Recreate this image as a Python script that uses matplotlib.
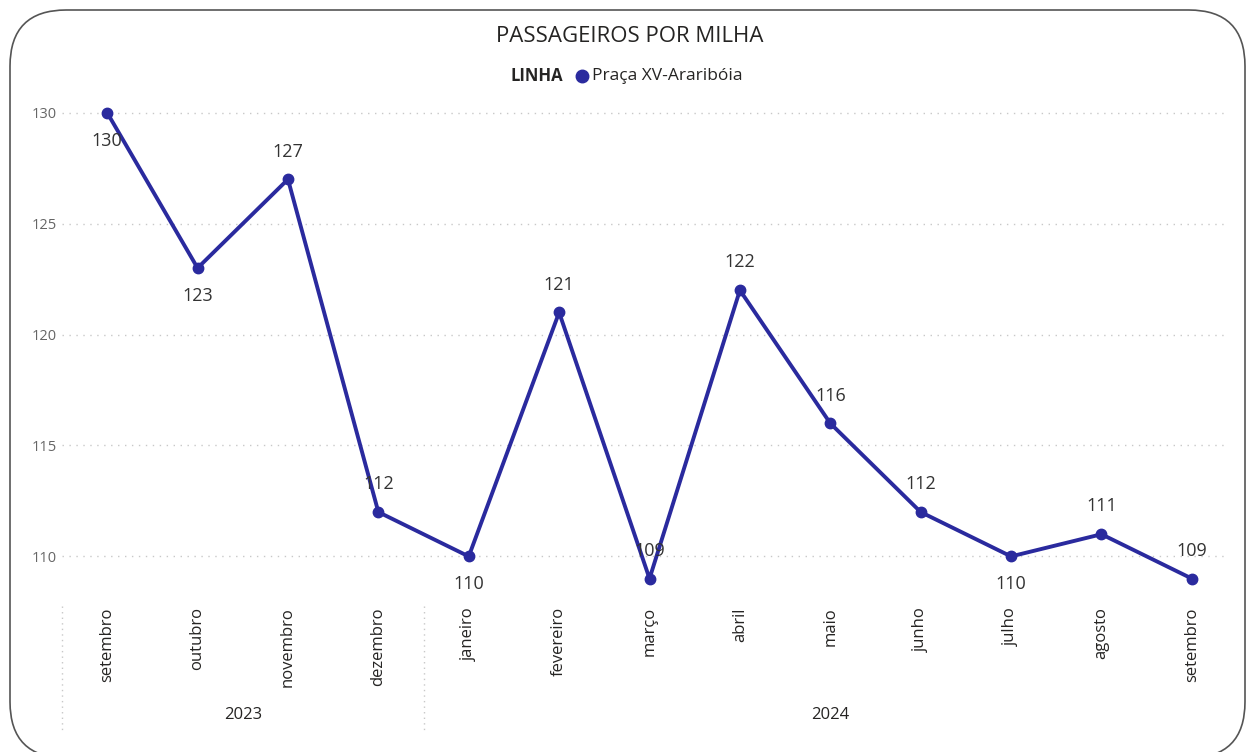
import matplotlib
matplotlib.use("Agg")
import matplotlib.pyplot as plt
from matplotlib.patches import FancyBboxPatch
from matplotlib.lines import Line2D

months = ["setembro", "outubro", "novembro", "dezembro", "janeiro", "fevereiro",
          "março", "abril", "maio", "junho", "julho", "agosto", "setembro"]
years = ["2023", "2024"]
year_counts = [4, 9]
values = [130, 123, 127, 112, 110, 121, 109, 122, 116, 112, 110, 111, 109]
label_pos = ["below", "below", "above", "above", "below", "above", "above",
             "above", "above", "above", "below", "above", "above"]
yticks = [110, 115, 120, 125, 130]
series_name = "Praça XV-Araribóia"
legend_title = "LINHA"
title = "PASSAGEIROS POR MILHA"

plt.rcParams['font.family'] = ['Open Sans', 'DejaVu Sans']
W, H = 1249, 752
fig = plt.figure(figsize=(W / 100, H / 100), dpi=100)

# rounded frame
frame = FancyBboxPatch((10 / W, 1 - 758 / H), (1245 - 10) / W, (758 - 10) / H,
                       boxstyle="round,pad=0,rounding_size=0.045",
                       transform=fig.transFigure, facecolor="none",
                       edgecolor="#555555", linewidth=1.2, mutation_aspect=W / H,
                       zorder=-1)
fig.patches.append(frame)

ax_l, ax_r, ax_t, ax_b = 62, 1228, 95, 603
ax = fig.add_axes([ax_l / W, 1 - ax_b / H, (ax_r - ax_l) / W, (ax_b - ax_t) / H])
ax.set_facecolor("none")
x = list(range(len(values)))
color = "#2A2A9E"
ax.plot(x, values, color=color, linewidth=2.8, marker="o", markersize=7.5, zorder=3)
ax.set_xlim(-0.5, 12.4)
ax.set_ylim(107.9, 130.8)
ax.set_yticks(yticks)
ax.set_yticklabels([str(t) for t in yticks], color="#666666", fontsize=10.5)
ax.tick_params(axis="y", length=0, pad=4)
ax.set_xticks([])
ax.grid(axis="y", linestyle=(0, (1, 4)), color="#C8C8C8", linewidth=1)
for s in ax.spines.values():
    s.set_visible(False)

for xi, v, pos in zip(x, values, label_pos):
    off = -20 if pos == "below" else 20
    ax.annotate(str(v), (xi, v), xytext=(0, off), textcoords="offset points",
                ha="center", va="center", fontsize=13, color="#333333", zorder=4)

# category labels
for xi, m in zip(x, months):
    ax.annotate(m, (xi, 0), xycoords=("data", "axes fraction"),
                xytext=(0, -3), textcoords="offset points",
                rotation=90, ha="center", va="top", fontsize=12, color="#252423")

# year labels & separators
start = 0
seps = [-0.5]
for yr, n in zip(years, year_counts):
    center = start + (n - 1) / 2
    ax.annotate(yr, (center, 0), xycoords=("data", "axes fraction"),
                xytext=(0, -75), textcoords="offset points",
                ha="center", va="top", fontsize=12, color="#252423")
    start += n
    seps.append(start - 0.5)
for sx in seps[:-1]:
    ax.plot([sx, sx], [-0.005, -0.25], transform=ax.get_xaxis_transform(),
            linestyle=(0, (1, 3)), color="#C8C8C8", linewidth=1, clip_on=False)

fig.text(630 / W, 1 - 36 / H, title, ha="center", va="center",
         fontsize=16, color="#252423")
fig.text(537 / W, 1 - 76 / H, legend_title, ha="center", va="center",
         fontsize=12, fontweight="bold", color="#252423")
fig.lines.append(Line2D([582 / W], [1 - 76 / H], marker="o", markersize=9,
                        color=color, transform=fig.transFigure))
fig.text(592 / W, 1 - 76 / H, series_name, ha="left", va="center",
         fontsize=12.5, color="#252423")

fig.savefig("out.png", dpi=100)
